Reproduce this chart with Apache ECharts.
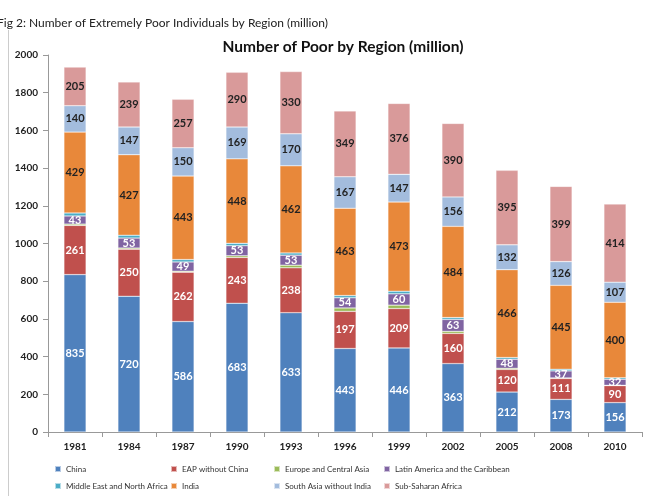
<!DOCTYPE html>
<html><head><meta charset="utf-8">
<script src="https://cdn.jsdelivr.net/npm/echarts@6/dist/echarts.min.js"></script>
<style>html,body{margin:0;padding:0;background:#fff}#c{width:655px;height:496px}</style>
</head><body><div id="c"></div>
<script>
var years = ['1981','1984','1987','1990','1993','1996','1999','2002','2005','2008','2010'];
var yTicks = [0,200,400,600,800,1000,1200,1400,1600,1800,2000];
var china = [835,720,586,683,633,443,446,363,212,173,156];
var eapNoChina = [261,250,262,243,238,197,209,160,120,111,90];
var europeCA = [7,6,5,9,14,18,18,11,6,3,2];
var latinAm = [43,53,49,53,53,54,60,63,48,37,32];
var mena = [16,15,13,13,12,12,14,10,9,9,8];
var india = [429,427,443,448,462,463,473,484,466,445,400];
var southAsiaNoIndia = [140,147,150,169,170,167,147,156,132,126,107];
var subSaharan = [205,239,257,290,330,349,376,390,395,399,414];

var FONT = 'Lato, "Open Sans", sans-serif';
function mk(name, data, color, showLabel, labelColor){
  return {
    name: name, type: 'bar', stack: 'total', data: data,
    barCategoryGap: '59%',
    itemStyle: {color: color, borderColor: 'rgba(255,255,255,0.6)', borderWidth: 0.5},
    label: {show: showLabel, position: 'inside', color: labelColor, fontSize: 11, fontFamily: FONT, fontWeight: 'bold'},
    emphasis: {disabled: true}
  };
}
var chart = echarts.init(document.getElementById('c'), null, {renderer: 'canvas'});
var legText = {fontSize: 8, fontFamily: FONT, color: '#333'};
function leg(left, top, name){
  return {orient: 'horizontal', left: left, top: top, padding: 0, itemWidth: 6, itemHeight: 6, itemGap: 5,
    icon: 'rect', textStyle: legText, data: [name], selectedMode: false};
}
chart.setOption({
  animation: false,
  title: [
    {text: 'Fig 2: Number of Extremely Poor Individuals by Region (million)', left: -8, top: 12,
     textStyle: {fontSize: 12, fontWeight: 'normal', fontFamily: FONT, color: '#222'}},
    {text: 'Number of Poor by Region (million)', left: 338, textAlign: 'center', top: 34,
     textStyle: {fontSize: 15.5, fontWeight: 'bold', fontFamily: FONT, color: '#111'}}
  ],
  graphic: [{type: 'line', shape: {x1: 8.5, y1: 30, x2: 8.5, y2: 496}, style: {stroke: '#ccc', lineWidth: 1}}],
  legend: [
    leg(54, 465, 'China'),
    leg(170, 465, 'EAP without China'),
    leg(273, 465, 'Europe and Central Asia'),
    leg(383, 465, 'Latin America and the Caribbean'),
    leg(54, 482, 'Middle East and North Africa'),
    leg(170, 482, 'India'),
    leg(273, 482, 'South Asia without India'),
    leg(383, 482, 'Sub-Saharan Africa')
  ],
  grid: {left: 48, right: 13, top: 55, bottom: 64, containLabel: false},
  xAxis: {type: 'category', data: years,
    axisLine: {lineStyle: {color: '#999'}},
    axisTick: {show: true, alignWithLabel: false, length: 5, lineStyle: {color: '#999'}},
    axisLabel: {fontSize: 10, fontWeight: 'bold', fontFamily: FONT, color: '#222', margin: 10}},
  yAxis: {type: 'value', min: yTicks[0], max: yTicks[yTicks.length-1], interval: 200,
    axisLine: {show: true, lineStyle: {color: '#999'}},
    axisTick: {show: true, length: 5, lineStyle: {color: '#999'}},
    splitLine: {show: false},
    axisLabel: {fontSize: 10, fontWeight: 'bold', fontFamily: FONT, color: '#222', margin: 10,
      formatter: function(v){ return String(v); }}},
  series: [
    mk('China', china, '#4F81BD', true, '#fff'),
    mk('EAP without China', eapNoChina, '#C0504D', true, '#fff'),
    mk('Europe and Central Asia', europeCA, '#9BBB59', false, '#000'),
    mk('Latin America and the Caribbean', latinAm, '#8064A2', true, '#fff'),
    mk('Middle East and North Africa', mena, '#4BACC6', false, '#000'),
    mk('India', india, '#E8883A', true, '#222'),
    mk('South Asia without India', southAsiaNoIndia, '#A3BCDD', true, '#222'),
    mk('Sub-Saharan Africa', subSaharan, '#D99A9A', true, '#222')
  ]
});
</script></body></html>
